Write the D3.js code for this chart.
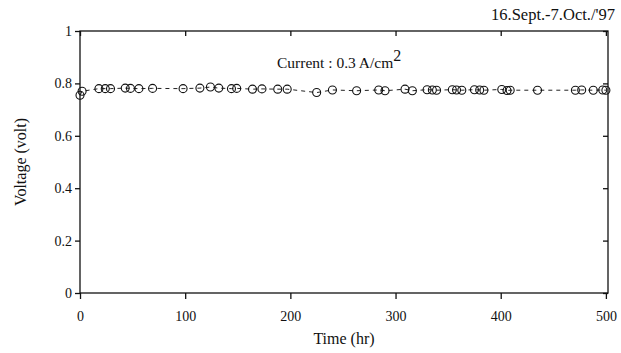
<!DOCTYPE html>
<html>
<head>
<meta charset="utf-8">
<script src="https://cdn.jsdelivr.net/npm/d3@7"></script>
<style>
    body { margin: 0; background: #fff; }
    text { font-family: "Liberation Serif", "Times New Roman", serif; fill: #111; }
</style>
</head>
<body>
<svg id="chart" width="621" height="353"></svg>
<script>
// time in hours, cell voltage in volts
var hours = [0, 2, 18, 24, 29, 43, 48, 56, 69, 98, 114, 124, 132, 144, 149, 164, 173, 188, 197,
    225, 240, 263, 284, 290, 309, 316, 330, 335, 339, 354, 358, 363, 375, 380, 384,
    401, 406, 409, 435, 471, 477, 488, 497, 500];
var volts = [0.755, 0.77, 0.78, 0.78, 0.78, 0.782, 0.781, 0.78, 0.781, 0.78, 0.782, 0.786, 0.782, 0.78, 0.781, 0.778, 0.779, 0.778, 0.778,
    0.765, 0.775, 0.772, 0.775, 0.772, 0.778, 0.772, 0.776, 0.775, 0.774, 0.776, 0.775, 0.774, 0.776, 0.775, 0.774,
    0.777, 0.773, 0.774, 0.774, 0.774, 0.775, 0.774, 0.775, 0.774];
var xTicks = [0, 100, 200, 300, 400, 500];
var yTicks = [0, 0.2, 0.4, 0.6, 0.8, 1];
var period = "16.Sept.-7.Oct./'97";

var svg = d3.select('#chart');
var pLeft = 80, pRight = 608, pTop = 31, pBottom = 293;

var x = d3.scaleLinear().domain([0, 502]).range([pLeft, pRight]);
var y = d3.scaleLinear().domain([0, 1]).range([pBottom, pTop]);

var points = hours.map(function (h, i) { return { h: h, v: volts[i] }; });

// frame
svg.append('rect')
    .attr('x', pLeft).attr('y', pTop)
    .attr('width', pRight - pLeft).attr('height', pBottom - pTop)
    .attr('fill', 'none').attr('stroke', '#111').attr('stroke-width', 1.3);

var yAxis = svg.append('g')
    .attr('transform', 'translate(' + pLeft + ',0)')
    .call(d3.axisLeft(y).tickValues(yTicks).tickSize(5).tickPadding(3)
        .tickFormat(function (d) { return d === 0 || d === 1 ? d : d3.format('.1f')(d); }));
var yRight = svg.append('g')
    .attr('transform', 'translate(' + pRight + ',0)')
    .call(d3.axisLeft(y).tickValues(yTicks).tickSize(5).tickFormat(''));
var xAxis = svg.append('g')
    .attr('transform', 'translate(0,' + pBottom + ')')
    .call(d3.axisBottom(x).tickValues(xTicks).tickSize(6).tickPadding(12));
var xTop = svg.append('g')
    .attr('transform', 'translate(0,' + pTop + ')')
    .call(d3.axisTop(x).tickValues(xTicks).tickSize(-5).tickFormat(''));

[yAxis, yRight, xAxis, xTop].forEach(function (g) {
    g.select('.domain').remove();
    g.selectAll('line').attr('stroke', '#111').attr('stroke-width', 1.3);
    g.selectAll('text').attr('font-size', '14px')
        .attr('font-family', '"Liberation Serif", serif').attr('fill', '#111');
});

// dashed line through the data
var line = d3.line()
    .x(function (d) { return x(d.h); })
    .y(function (d) { return y(d.v); });

svg.append('path')
    .datum(points)
    .attr('d', line)
    .attr('fill', 'none')
    .attr('stroke', '#222')
    .attr('stroke-width', 1)
    .attr('stroke-dasharray', '4,4');

svg.append('g').selectAll('circle')
    .data(points)
    .enter()
    .append('circle')
    .attr('cx', function (d) { return x(d.h); })
    .attr('cy', function (d) { return y(d.v); })
    .attr('r', 4)
    .attr('fill', 'none')
    .attr('stroke', '#111')
    .attr('stroke-width', 1.1);

// labels
svg.append('text')
    .attr('x', 344).attr('y', 344)
    .attr('text-anchor', 'middle')
    .attr('font-size', '16px')
    .text('Time (hr)');

svg.append('text')
    .attr('transform', 'translate(26,' + ((pTop + pBottom) / 2) + ') rotate(-90)')
    .attr('text-anchor', 'middle')
    .attr('font-size', '16px')
    .text('Voltage (volt)');

svg.append('text')
    .attr('x', 615).attr('y', 20)
    .attr('text-anchor', 'end')
    .attr('font-size', '16.5px')
    .text(period);

var cur = svg.append('text')
    .attr('x', 277).attr('y', 68)
    .attr('font-size', '15.5px');
cur.append('tspan').text('Current : 0.3 A/cm');
cur.append('tspan').attr('dy', -7).attr('font-size', '16px').text('2');
</script>
</body>
</html>
